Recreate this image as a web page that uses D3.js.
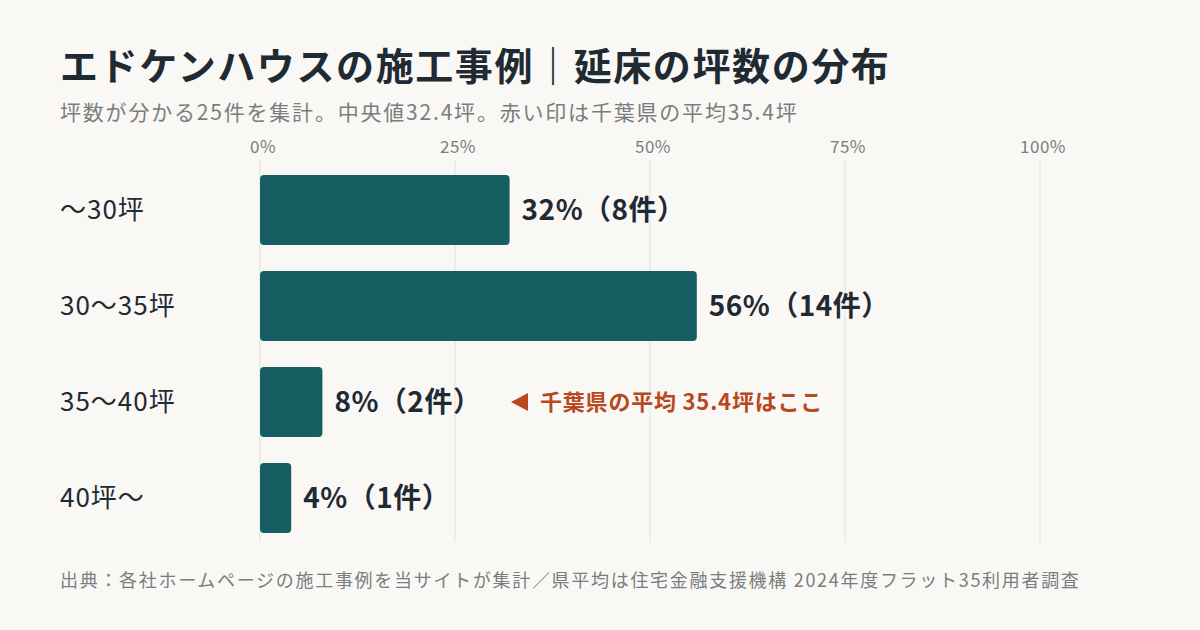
<!DOCTYPE html>
<html><head><meta charset="utf-8">
<script src="https://cdn.jsdelivr.net/npm/d3@7"></script>
<style>body{margin:0;background:#f9f8f5}svg{display:block}</style>
</head><body><svg id="c" width="1200" height="630"></svg>
<script>
const categories = ["～30坪", "30～35坪", "35～40坪", "40坪～"];
const shares = [0.32, 0.56, 0.08, 0.04];
const counts = [8, 14, 2, 1];
const ticks = [0, 0.25, 0.5, 0.75, 1];

const font = "'Noto Sans CJK JP', 'Noto Sans', sans-serif";
const svg = d3.select("#c").style("font-family", font);
svg.append("rect").attr("width", 1200).attr("height", 630).attr("fill", "#f9f8f5");

const x = d3.scaleLinear().domain([0, 1]).range([260, 1040]);
const y = d3.scaleBand().domain(categories).range([162, 546]).paddingInner(0.27).paddingOuter(0.135);

svg.append("text").attr("x", 60).attr("y", 80).text("エドケンハウスの施工事例｜延床の坪数の分布")
  .attr("font-size", 38).attr("letter-spacing", 1.6).attr("font-weight", 700).attr("fill", "#1f2a33");
svg.append("text").attr("x", 60).attr("y", 120).text("坪数が分かる25件を集計。中央値32.4坪。赤い印は千葉県の平均35.4坪")
  .attr("font-size", 21).attr("letter-spacing", 1.8).attr("fill", "#7a7d80");

const g = svg.append("g");
g.selectAll("line.grid").data(ticks).enter().append("line")
  .attr("x1", d => x(d)).attr("x2", d => x(d)).attr("y1", 160).attr("y2", 542)
  .attr("stroke", "#e3e1dc").attr("stroke-width", 1);
g.selectAll("text.tick").data(ticks).enter().append("text")
  .attr("x", d => x(d) + 3).attr("y", 153).attr("text-anchor", "middle")
  .attr("font-size", 17).attr("letter-spacing", 0.5).attr("fill", "#7a7d80").text(d => d3.format(".0%")(d));

g.selectAll("rect.bar").data(shares).enter().append("rect")
  .attr("x", x(0)).attr("y", (d, i) => y(categories[i]))
  .attr("width", d => x(d) - x(0)).attr("height", y.bandwidth())
  .attr("rx", 4).attr("fill", "#175e63");

g.selectAll("text.cat").data(categories).enter().append("text")
  .attr("x", 60).attr("y", d => y(d) + y.bandwidth() / 2).attr("dy", "0.35em")
  .attr("font-size", 26).attr("letter-spacing", 1).attr("fill", "#1f2a33").text(d => d);

g.selectAll("text.val").data(shares).enter().append("text")
  .attr("x", d => x(d) + 12).attr("y", (d, i) => y(categories[i]) + y.bandwidth() / 2).attr("dy", "0.35em")
  .attr("font-size", 28).attr("letter-spacing", 0.5).attr("font-weight", 700).attr("fill", "#1f2a33")
  .text((d, i) => `${Math.round(d * 100)}%（${counts[i]}件）`);

const ay = y(categories[2]) + y.bandwidth() / 2;
svg.append("path").attr("d", `M511,${ay} L528,${ay - 9} L528,${ay + 9} Z`).attr("fill", "#b8481f");
svg.append("text").attr("x", 540).attr("y", ay).attr("dy", "0.35em")
  .attr("font-size", 22).attr("letter-spacing", 0.8).attr("font-weight", 700).attr("fill", "#b8481f").text("千葉県の平均 35.4坪はここ");

svg.append("text").attr("x", 60).attr("y", 587)
  .text("出典：各社ホームページの施工事例を当サイトが集計／県平均は住宅金融支援機構 2024年度フラット35利用者調査")
  .attr("font-size", 18).attr("letter-spacing", 1.7).attr("fill", "#7a7d80");
</script></body></html>
